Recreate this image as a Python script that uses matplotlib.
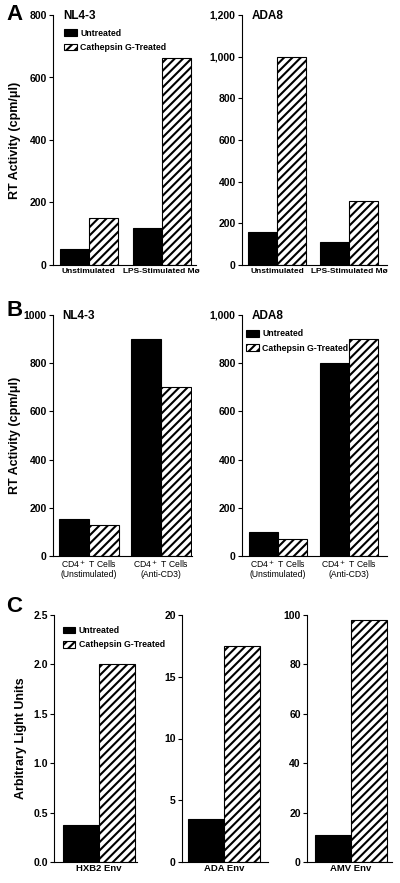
import numpy as np
import matplotlib
matplotlib.use("Agg")
import matplotlib.pyplot as plt

plt.rcParams["font.family"] = ["Liberation Sans", "DejaVu Sans"]
plt.rcParams["hatch.linewidth"] = 1.5
plt.rcParams["axes.linewidth"] = 0.8

SERIES = ["Untreated", "Cathepsin G-Treated"]

# Panel A: macrophages
a_groups = ["Unstimulated", "LPS-Stimulated Mø"]
a_nl43_untreated = [51, 119]
a_nl43_treated = [150, 662]
a_ada8_untreated = [160, 110]
a_ada8_treated = [1000, 305]

# Panel B: CD4+ T cells
b_groups = ["CD4$^+$ T Cells\n(Unstimulated)", "CD4$^+$ T Cells\n(Anti-CD3)"]
b_nl43_untreated = [154, 900]
b_nl43_treated = [127, 700]
b_ada8_untreated = [100, 800]
b_ada8_treated = [72, 900]

# Panel C: envelopes
c_groups = ["HXB2 Env", "ADA Env", "AMV Env"]
c_untreated = [0.37, 3.5, 11]
c_treated = [2.0, 17.5, 98]

HATCH = "////"
W, H = 400, 883
fig = plt.figure(figsize=(4, 8.83), dpi=100)


def axes_px(x0, x1, ytop, ybot):
    return fig.add_axes([x0 / W, 1 - ybot / H, (x1 - x0) / W, (ybot - ytop) / H])


def style_axis(ax, ylim, yticks, yticklabels, xlim):
    for side in ("top", "right"):
        ax.spines[side].set_visible(False)
    ax.set_ylim(*ylim)
    ax.set_xlim(*xlim)
    ax.set_yticks(yticks)
    ax.set_yticklabels(yticklabels, fontsize=7.5, fontweight="bold")
    ax.tick_params(axis="y", direction="out", length=3, width=0.8, pad=1.5)
    ax.tick_params(axis="x", length=0, pad=2)


def grouped(ax, groups, untreated, treated, width, xlab_size, xlab_weight):
    x = np.arange(len(groups))
    ax.bar(x - width / 2, untreated, width, color="black", edgecolor="black",
           linewidth=0.8, label=SERIES[0])
    ax.bar(x + width / 2, treated, width, color="white", edgecolor="black",
           hatch=HATCH, linewidth=0.8, label=SERIES[1])
    ax.set_xticks(x)
    ax.set_xticklabels(groups, fontsize=xlab_size, fontweight=xlab_weight,
                       linespacing=1.0)


def add_legend(ax, anchor):
    ax.legend(loc="upper left", bbox_to_anchor=anchor, frameon=False,
              handlelength=1.4, handleheight=0.75,
              handletextpad=0.4, labelspacing=0.6, borderaxespad=0,
              borderpad=0, prop={"weight": "bold", "size": 6.3})


def title_in(ax, text):
    ax.text(0.07, 0.995, text, transform=ax.transAxes, fontsize=8.5,
            fontweight="bold", ha="left", va="center")


def ylabel_at(ax, text, x_px, x0, x1):
    ax.set_ylabel(text, fontsize=9, fontweight="bold")
    ax.yaxis.set_label_coords((x_px - x0) / (x1 - x0), 0.5)


# ---- A ----
ax = axes_px(53, 196, 15, 265)
grouped(ax, a_groups, a_nl43_untreated, a_nl43_treated, 0.4, 6, "bold")
style_axis(ax, (0, 800), [0, 200, 400, 600, 800], ["0", "200", "400", "600", "800"], (-0.49, 1.47))
ylabel_at(ax, "RT Activity (cpm/\u03bcl)", 21, 53, 196)
title_in(ax, "NL4-3")
add_legend(ax, (0.08, 0.945))

ax = axes_px(242, 387, 15, 265)
grouped(ax, a_groups, a_ada8_untreated, a_ada8_treated, 0.4, 6, "bold")
style_axis(ax, (0, 1200), [0, 200, 400, 600, 800, 1000, 1200],
           ["0", "200", "400", "600", "800", "1,000", "1,200"], (-0.49, 1.53))
title_in(ax, "ADA8")

# ---- B ----
ax = axes_px(53, 192, 315, 556)
grouped(ax, b_groups, b_nl43_untreated, b_nl43_treated, 0.42, 6.2, "normal")
style_axis(ax, (0, 1000), [0, 200, 400, 600, 800, 1000],
           ["0", "200", "400", "600", "800", "1000"], (-0.5, 1.43))
ylabel_at(ax, "RT Activity (cpm/\u03bcl)", 21, 53, 192)
title_in(ax, "NL4-3")

ax = axes_px(242, 387, 315, 556)
grouped(ax, b_groups, b_ada8_untreated, b_ada8_treated, 0.41, 6.2, "normal")
style_axis(ax, (0, 1000), [0, 200, 400, 600, 800, 1000],
           ["0", "200", "400", "600", "800", "1,000"], (-0.51, 1.54))
title_in(ax, "ADA8")
add_legend(ax, (0.03, 0.94))

# ---- C ----
c_axes = [
    (54, 137, (0, 2.5), [0, 0.5, 1.0, 1.5, 2.0, 2.5], ["0.0", "0.5", "1.0", "1.5", "2.0", "2.5"], (-1.25, 1.06)),
    (182, 268, (0, 20), [0, 5, 10, 15, 20], ["0", "5", "10", "15", "20"], (-1.17, 1.22)),
    (307, 392, (0, 100), [0, 20, 40, 60, 80, 100], ["0", "20", "40", "60", "80", "100"], (-1.22, 1.14)),
]
for i, (x0, x1, ylim, yt, ytl, xlim) in enumerate(c_axes):
    ax = axes_px(x0, x1, 615, 862)
    ax.bar([-0.5], [c_untreated[i]], 1.0, color="black", edgecolor="black",
           linewidth=0.8, label=SERIES[0])
    ax.bar([0.5], [c_treated[i]], 1.0, color="white", edgecolor="black",
           hatch=HATCH, linewidth=0.8, label=SERIES[1])
    ax.set_xticks([0])
    ax.set_xticklabels([c_groups[i]], fontsize=6.8, fontweight="bold")
    style_axis(ax, ylim, yt, ytl, xlim)
    ax.tick_params(axis="x", pad=1.5)
    if i == 0:
        ylabel_at(ax, "Arbitrary Light Units", 27, x0, x1)
        add_legend(ax, (0.11, 0.955))

# panel letters
for letter, y in (("A", 14), ("B", 310), ("C", 607)):
    fig.text(6 / W, 1 - y / H, letter, fontsize=16, fontweight="heavy",
             ha="left", va="center")

fig.savefig("out.png", dpi=100)
